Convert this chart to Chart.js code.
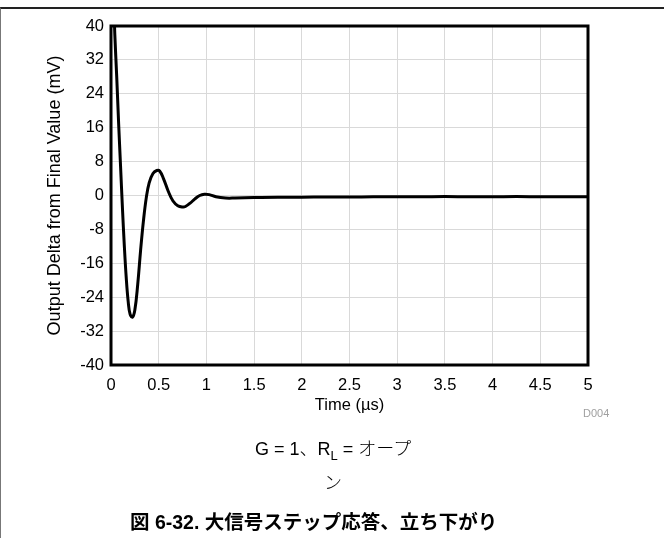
<!DOCTYPE html>
<html>
<head>
<meta charset="utf-8">
<script src="https://cdn.jsdelivr.net/npm/chart.js@4/dist/chart.umd.min.js"></script>
<style>
  html, body { margin: 0; padding: 0; background: #fff; }
  #wrap { position: relative; width: 664px; height: 538px; overflow: hidden; }
  #frame { position: absolute; left: 0; top: 7px; width: 664px; height: 531px;
           border-top: 2px solid #222; border-left: 1.5px solid #777; box-sizing: border-box; }
  canvas { position: absolute; left: 0; top: 0; }
  .txt { position: absolute; font-family: "Liberation Sans", Arial, sans-serif; color: #000; white-space: nowrap; }
  #code { left: 583px; top: 407px; font-size: 11px; color: #a0a0a0; }
  #cap1 { left: 255px; top: 434px; font-size: 18px; }
  #cap1 .jp { font-family: "Noto Sans CJK JP", sans-serif; font-weight: 300; }
  #cap1 sub { font-size: 13px; vertical-align: -5px; line-height: 0; }
  #cap2 { left: 324px; top: 468px; font-size: 18px; font-family: "Noto Sans CJK JP", sans-serif; font-weight: 300; }
  #title { left: 130px; top: 506px; font-size: 19.5px; font-weight: bold;
           font-family: "Liberation Sans", "Noto Sans CJK JP", sans-serif; }
</style>
</head>
<body>
<div id="wrap">
  <div id="frame"></div>
  <canvas id="step-chart" width="664" height="538"></canvas>
  <div class="txt" id="code">D004</div>
  <div class="txt" id="cap1">G = 1<span class="jp">、</span>R<sub>L</sub> = <span class="jp">オープ</span></div>
  <div class="txt" id="cap2">ン</div>
  <div class="txt" id="title">図 6-32. 大信号ステップ応答、立ち下がり</div>
</div>
<script>
// Données (temps en µs, écart en mV)
const timeUs = [0.03, 0.04, 0.06, 0.08, 0.10, 0.12, 0.14, 0.16, 0.18, 0.20, 0.225, 0.25, 0.28, 0.31, 0.34, 0.37,
                0.40, 0.44, 0.48, 0.51, 0.55, 0.60, 0.65, 0.70, 0.75, 0.78, 0.83, 0.88, 0.93, 0.98, 1.03, 1.1,
                1.2, 1.3, 1.5, 1.75, 2.0, 2.25, 2.5, 2.75, 3.0, 3.25, 3.5, 3.75, 4.0, 4.25, 4.5, 4.75, 5.0];
const deltaMv = [46, 38, 28, 17, 7, -3, -12, -19.5, -25, -28, -28.7, -27, -21, -13, -6, -0.5,
                 3, 5.2, 5.9, 5.8, 4, 1, -1.3, -2.4, -2.7, -2.6, -1.8, -0.8, 0, 0.3, 0.2, -0.3,
                 -0.6, -0.6, -0.5, -0.4, -0.4, -0.35, -0.35, -0.3, -0.3, -0.3, -0.25, -0.3, -0.3, -0.25, -0.3, -0.3, -0.3];
const xTicks = [0, 0.5, 1, 1.5, 2, 2.5, 3, 3.5, 4, 4.5, 5];
const yTicks = [-40, -32, -24, -16, -8, 0, 8, 16, 24, 32, 40];

const ctx = document.getElementById('step-chart').getContext('2d');

const points = timeUs.map((t, i) => ({ x: t, y: deltaMv[i] }));

// Cadre noir autour de la zone du graphique
const boxPlugin = {
    id: 'box',
    afterDatasetsDraw(chart) {
        const a = chart.chartArea;
        const c = chart.ctx;
        c.save();
        c.strokeStyle = '#000';
        c.lineWidth = 3;
        c.strokeRect(a.left, a.top, a.right - a.left, a.bottom - a.top);
        c.restore();
    }
};

const tickFont = { family: '"Liberation Sans", Arial, sans-serif', size: 16.5 };
const yTitleFont = { family: '"Liberation Sans", Arial, sans-serif', size: 18 };

const stepChart = new Chart(ctx, {
    type: 'line',
    data: {
        datasets: [{
            data: points,
            borderColor: '#000',
            borderWidth: 3,
            pointRadius: 0,
            tension: 0.4,
            fill: false
        }]
    },
    options: {
        responsive: false,
        animation: false,
        layout: { padding: { left: 44, top: 26, right: 76, bottom: 123 } },
        plugins: { legend: { display: false }, tooltip: { enabled: false } },
        scales: {
            x: {
                type: 'linear',
                min: 0,
                max: 5,
                afterBuildTicks: (s) => { s.ticks = xTicks.map(v => ({ value: v })); },
                afterFit: (s) => { s.height = 50; },
                ticks: { color: '#000', font: tickFont, padding: 11, maxRotation: 0,
                         callback: (v) => String(v) },
                grid: { color: '#d9d9d9', lineWidth: 1, drawTicks: false },
                border: { display: false },
                title: { display: true, text: 'Time (µs)', color: '#000', font: tickFont, padding: 0 }
            },
            y: {
                min: -40,
                max: 40,
                afterBuildTicks: (s) => { s.ticks = yTicks.map(v => ({ value: v })); },
                afterFit: (s) => { s.width = 67; },
                ticks: { color: '#000', font: tickFont, padding: 7 },
                grid: { color: '#d9d9d9', lineWidth: 1, drawTicks: false },
                border: { display: false },
                title: { display: true, text: 'Output Delta from Final Value (mV)', color: '#000', font: yTitleFont, padding: 0 }
            }
        }
    },
    plugins: [boxPlugin]
});
</script>
</body>
</html>
